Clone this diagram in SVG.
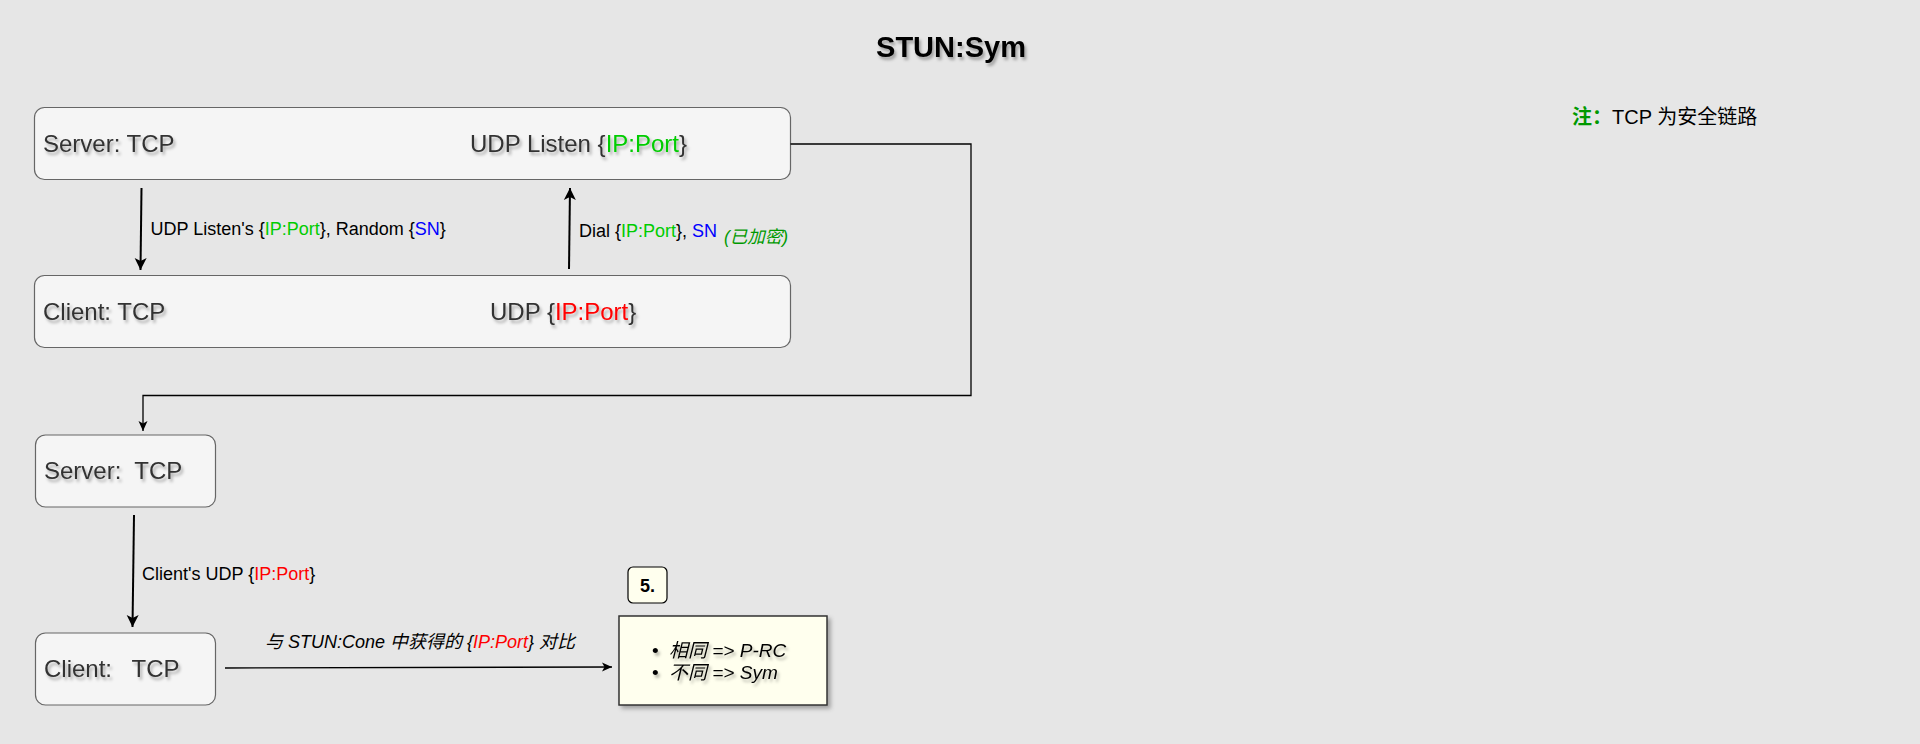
<svg xmlns="http://www.w3.org/2000/svg" width="1920" height="744" viewBox="0 0 1920 744">
<style>
text{font-family:"Liberation Sans",Arial,"Noto Sans CJK SC",sans-serif;}
.box{fill:#f5f5f5;stroke:#666;stroke-width:1.2;}
.lbl{font-size:24px;fill:#333;}
.edge{font-size:18px;fill:#000;}
.g{fill:#00cc00;}
.r{fill:#ff0000;}
.b{fill:#0000ff;}
.thick{stroke:#000;stroke-width:2;fill:none;}
.thin{stroke:#000;stroke-width:1.3;fill:none;}
.note{fill:#ffffee;stroke:#333;stroke-width:1.5;}
</style>
<defs>
<filter id="ts" x="-10%" y="-30%" width="130%" height="180%">
<feDropShadow dx="2" dy="3" stdDeviation="1.5" flood-color="#000" flood-opacity="0.3"/>
</filter>
<filter id="bs" x="-10%" y="-10%" width="130%" height="130%">
<feDropShadow dx="3" dy="3" stdDeviation="2" flood-color="#000" flood-opacity="0.3"/>
</filter>
<marker id="ab" markerUnits="userSpaceOnUse" markerWidth="14" markerHeight="14" viewBox="0 0 14 14" refX="13" refY="7" orient="auto">
<path d="M1,1 L13,7 L1,13 L4,7 Z" fill="#000"/>
</marker>
<marker id="as" markerUnits="userSpaceOnUse" markerWidth="12" markerHeight="12" viewBox="0 0 12 12" refX="11" refY="6" orient="auto">
<path d="M1,1.5 L11,6 L1,10.5 L3.5,6 Z" fill="#000"/>
</marker>
</defs>
<rect width="1920" height="744" fill="#e6e6e6"/>

<g id="title">
<text x="951" y="57" text-anchor="middle" font-size="29" font-weight="bold" fill="#000" filter="url(#ts)">STUN:Sym</text>
</g>

<g id="note-tcp">
<text x="1572" y="124" font-size="20"><tspan fill="#009900" font-weight="bold">注：</tspan><tspan fill="#000">TCP 为安全链路</tspan></text>
</g>

<g id="server1">
<rect class="box" x="34.5" y="107.5" width="756" height="72" rx="10"/>
<text class="lbl" x="43" y="152" filter="url(#ts)">Server: TCP</text>
<text class="lbl" x="470" y="152" filter="url(#ts)">UDP Listen {<tspan class="g">IP:Port</tspan>}</text>
</g>

<g id="client1">
<rect class="box" x="34.5" y="275.5" width="756" height="72" rx="10"/>
<text class="lbl" x="43" y="320" filter="url(#ts)">Client: TCP</text>
<text class="lbl" x="490" y="320" filter="url(#ts)">UDP {<tspan class="r">IP:Port</tspan>}</text>
</g>

<g id="server2">
<rect class="box" x="35.5" y="435" width="180" height="72" rx="10"/>
<text class="lbl" x="44" y="479" filter="url(#ts)" xml:space="preserve">Server:  TCP</text>
</g>

<g id="client2">
<rect class="box" x="35.5" y="633" width="180" height="72" rx="10"/>
<text class="lbl" x="44" y="677" filter="url(#ts)" xml:space="preserve">Client:   TCP</text>
</g>

<g id="step5">
<rect x="628" y="567" width="39" height="36" rx="5" fill="#ffffee" stroke="#000" stroke-width="1.2"/>
<text x="647.5" y="592" text-anchor="middle" font-size="18" font-weight="bold" fill="#000">5.</text>
</g>

<g id="result">
<rect class="note" x="619" y="616" width="208" height="89" filter="url(#bs)"/>
<g font-size="19" fill="#000" filter="url(#ts)">
<text x="652" y="657">•</text>
<text x="669" y="657" font-style="italic">相同 =&gt; P-RC</text>
<text x="652" y="679">•</text>
<text x="669" y="679" font-style="italic">不同 =&gt; Sym</text>
</g>
</g>

<g id="connectors">
<line class="thick" x1="141.5" y1="188" x2="140.5" y2="270" marker-end="url(#ab)"/>
<line class="thick" x1="569" y1="269" x2="570" y2="188" marker-end="url(#ab)"/>
<path class="thin" d="M790.5,144 H971 V395.5 H143 V431" marker-end="url(#as)"/>
<line class="thick" x1="134" y1="515" x2="132.5" y2="627" marker-end="url(#ab)"/>
<line class="thin" x1="225" y1="668" x2="612" y2="667" marker-end="url(#as)"/>

<text class="edge" x="150.5" y="235">UDP Listen's {<tspan class="g">IP:Port</tspan>}, Random {<tspan class="b">SN</tspan>}</text>
<text class="edge" x="579" y="236.5">Dial {<tspan class="g">IP:Port</tspan>}, <tspan class="b">SN</tspan></text>
<text x="724" y="243" font-size="17.5" font-style="italic" fill="#009900">(已加密)</text>
<text class="edge" x="142" y="580">Client's UDP {<tspan class="r">IP:Port</tspan>}</text>
<text class="edge" x="265" y="648" font-style="italic">与 STUN:Cone 中获得的 {<tspan class="r">IP:Port</tspan>} 对比</text>
</g>
</svg>
